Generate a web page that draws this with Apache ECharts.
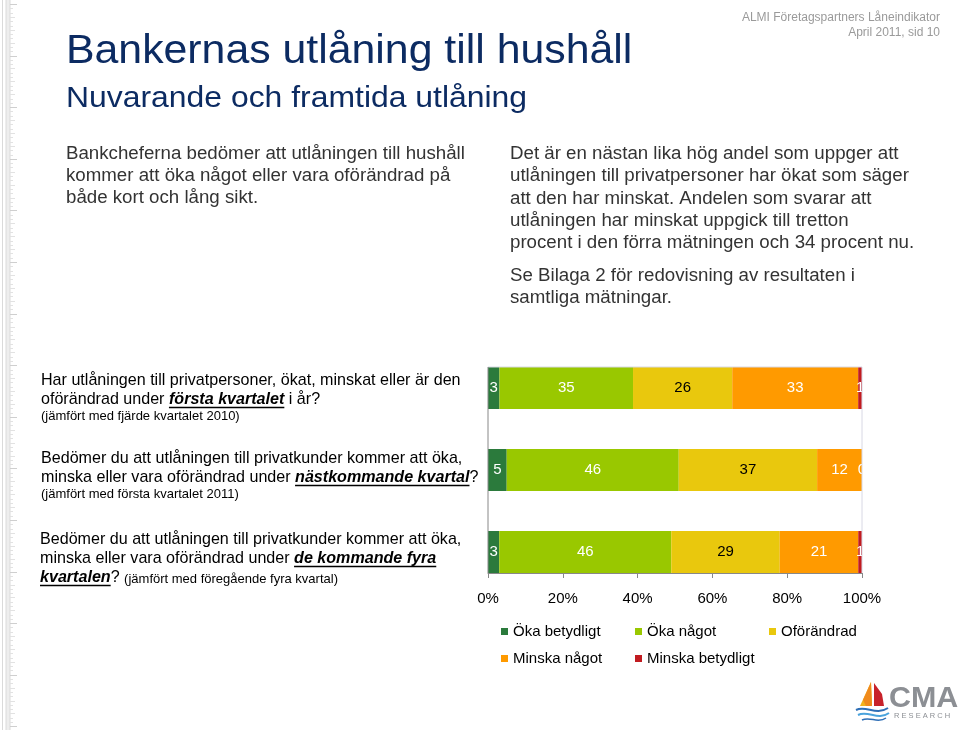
<!DOCTYPE html>
<html>
<head>
<meta charset="utf-8">
<script src="https://cdn.jsdelivr.net/npm/echarts@6/dist/echarts.min.js"></script>
<style>
html,body{margin:0;padding:0;background:#fff;}
#c{width:960px;height:730px;}
</style>
</head>
<body>
<div id="c"></div>
<script>
// ---------- data ----------
const categories = ['Första kvartalet', 'Nästkommande kvartal', 'De kommande fyra kvartalen'];
const seriesNames = ['Öka betydligt', 'Öka något', 'Oförändrad', 'Minska något', 'Minska betydligt'];
const okaBetydligt = [3, 5, 3];
const okaNagot = [35, 46, 46];
const oforandrad = [26, 37, 29];
const minskaNagot = [33, 12, 21];
const minskaBetydligt = [1, 0, 1];
const xTickValues = [0, 20, 40, 60, 80, 100];

const titleText = 'Bankernas utlåning till hushåll';
const subtitleText = 'Nuvarande och framtida utlåning';
const headerLines = ['ALMI Företagspartners Låneindikator', 'April 2011, sid 10'];
const leftBody = ['Bankcheferna bedömer att utlåningen till hushåll', 'kommer att öka något eller vara oförändrad på', 'både kort och lång sikt.'];
const rightBody = ['Det är en nästan lika hög andel som uppger att', 'utlåningen till privatpersoner har ökat som säger', 'att den har minskat. Andelen som svarar att', 'utlåningen har minskat uppgick till tretton', 'procent i den förra mätningen och 34 procent nu.'];
const rightBody2 = ['Se Bilaga 2 för redovisning av resultaten i', 'samtliga mätningar.'];
// question texts: segments [text, style]  n = normal, b = bold italic underlined, s = small
const questions = [
  [
    [['Har utlåningen till privatpersoner, ökat, minskat eller är den', 'n']],
    [['oförändrad under ', 'n'], ['första kvartalet', 'b'], [' i år?', 'n']],
    [['(jämfört med fjärde kvartalet 2010)', 's']]
  ],
  [
    [['Bedömer du att utlåningen till privatkunder kommer att öka,', 'n']],
    [['minska eller vara oförändrad under ', 'n'], ['nästkommande kvartal', 'b'], ['?', 'n']],
    [['(jämfört med första kvartalet 2011)', 's']]
  ],
  [
    [['Bedömer du att utlåningen till privatkunder kommer att öka,', 'n']],
    [['minska eller vara oförändrad under ', 'n'], ['de kommande fyra', 'b']],
    [['kvartalen', 'b'], ['? ', 'n'], ['(jämfört med föregående fyra kvartal)', 's']]
  ]
];

const rawSeries = [okaBetydligt, okaNagot, oforandrad, minskaNagot, minskaBetydligt];
const colors = ['#2b7a3c', '#99c800', '#e9c80d', '#ff9a00', '#c11b20'];
const labelColors = ['#ffffff', '#ffffff', '#000000', '#ffffff', '#ffffff'];

// ---------- chart ----------
const FONT = '"Liberation Sans", Arial, Helvetica, sans-serif';
const chart = echarts.init(document.getElementById('c'), null, {renderer: 'canvas'});

const totals = categories.map((_, i) => rawSeries.reduce((s, arr) => s + arr[i], 0));
const BAR_W = 42;

chart.setOption({
  animation: false,
  backgroundColor: '#ffffff',
  textStyle: {fontFamily: FONT},
  grid: {left: 488, right: 98, top: 347, bottom: 137, containLabel: false},
  legend: {
    left: 496, top: 619, width: 420,
    itemWidth: 7, itemHeight: 7, itemGap: 12,
    icon: 'rect',
    data: seriesNames,
    formatter: name => '{t|' + name + '}',
    textStyle: {fontSize: 15, color: '#000', fontFamily: FONT,
      rich: {t: {width: 110, fontSize: 15, color: '#000', fontFamily: FONT, lineHeight: 18}}}
  },
  xAxis: {
    type: 'value', min: 0, max: 100, interval: 20,
    offset: -20,
    axisLine: {show: true, lineStyle: {color: '#888', width: 1}},
    axisTick: {show: true, length: 5, lineStyle: {color: '#888'}},
    splitLine: {show: false},
    axisLabel: {
      margin: 18, fontSize: 15, color: '#000', fontFamily: FONT,
      formatter: v => xTickValues.indexOf(v) >= 0 ? v + '%' : ''
    }
  },
  yAxis: {
    type: 'category', inverse: true, data: categories,
    axisLine: {show: false}, axisTick: {show: false}, axisLabel: {show: false}
  },
  series: rawSeries.map((arr, k) => ({
    name: seriesNames[k],
    type: 'bar',
    stack: 'all',
    barWidth: BAR_W,
    itemStyle: {color: colors[k]},
    label: {
      show: true, position: 'inside', fontSize: 15, fontFamily: FONT,
      color: labelColors[k],
      formatter: p => String(arr[p.dataIndex])
    },
    data: arr.map((v, i) => v / totals[i] * 100)
  }))
});

// ---------- decorations / texts ----------
const mctx = document.createElement('canvas').getContext('2d');
function tw(text, size, bold, italic) {
  mctx.font = (italic ? 'italic ' : '') + (bold ? 'bold ' : '') + size + 'px ' + FONT;
  return mctx.measureText(text).width;
}
const g = [];
function txt(x, y, text, o) {
  o = o || {};
  g.push({
    type: 'text', x: x, y: y, silent: true,
    scaleX: o.sx || 1,
    style: {
      text: text, fill: o.fill || '#000', fontSize: o.size || 16, fontFamily: FONT,
      fontWeight: o.bold ? 'bold' : 'normal', fontStyle: o.italic ? 'italic' : 'normal',
      align: o.align || 'left', verticalAlign: o.va || 'middle'
    }
  });
}

// left ruler decoration
g.push({type: 'rect', shape: {x: 6, y: 0, width: 4, height: 730}, style: {fill: '#eeeeee'}, silent: true});
[2.5, 6, 10].forEach(x => g.push({type: 'line', shape: {x1: x, y1: 0, x2: x, y2: 730}, style: {stroke: '#dadada', lineWidth: 1}, silent: true}));
for (let y = 4; y < 730; y += 4.3) {
  const i = Math.round((y - 4) / 4.3);
  const big = i % 12 === 0, mid = i % 3 === 0;
  g.push({type: 'line', shape: {x1: 10, y1: Math.round(y) + 0.5, x2: big ? 17 : (mid ? 15 : 13), y2: Math.round(y) + 0.5}, style: {stroke: big ? '#cfcfcf' : '#e2e2e2', lineWidth: 1}, silent: true});
}

// header
txt(940, 18, headerLines[0], {size: 12, fill: '#9a9a9a', align: 'right'});
txt(940, 33, headerLines[1], {size: 12, fill: '#9a9a9a', align: 'right'});

// titles
txt(66, 52, titleText, {size: 40, fill: '#0c2b62', sx: 1.07});
txt(66, 99, subtitleText, {size: 29, fill: '#0c2b62', sx: 1.1});

// body
leftBody.forEach((l, i) => txt(66, 154 + i * 22, l, {size: 18.7, fill: '#333'}));
rightBody.forEach((l, i) => txt(510, 154 + i * 22.2, l, {size: 18.7, fill: '#333'}));
rightBody2.forEach((l, i) => txt(510, 276 + i * 22.2, l, {size: 18.7, fill: '#333'}));

// questions
const qPos = [
  {x: 41, ys: [381, 400, 416]},
  {x: 41, ys: [459, 478, 494]},
  {x: 40, ys: [540, 559, 578]}
];
questions.forEach((q, qi) => {
  q.forEach((line, li) => {
    let x = qPos[qi].x;
    const y = qPos[qi].ys[li];
    line.forEach(([t, s]) => {
      const size = s === 's' ? 13 : 16.1;
      const bold = s === 'b', italic = s === 'b';
      txt(x, s === 's' && line.length > 1 ? y + 1 : y, t, {size: size, bold: bold, italic: italic, fill: '#000'});
      const w = tw(t, size, bold, italic);
      if (s === 'b') {
        g.push({type: 'line', shape: {x1: x, y1: y + 7.5, x2: x + w, y2: y + 7.5}, style: {stroke: '#000', lineWidth: 1.5}, silent: true});
      }
      x += w;
    });
  });
});

// plot frame derived from axes
const x0 = chart.convertToPixel({xAxisIndex: 0}, 0);
const x100 = chart.convertToPixel({xAxisIndex: 0}, 100);
const yTop = chart.convertToPixel({yAxisIndex: 0}, 0) - BAR_W / 2;
const yBot = chart.convertToPixel({yAxisIndex: 0}, categories.length - 1) + BAR_W / 2;
g.push({type: 'line', shape: {x1: x0, y1: yTop, x2: x100, y2: yTop}, style: {stroke: '#d8d8e4', lineWidth: 1}, silent: true, z: 10});
g.push({type: 'line', shape: {x1: x100, y1: yTop, x2: x100, y2: yBot}, style: {stroke: '#d8d8e4', lineWidth: 1}, silent: true, z: 10});
g.push({type: 'line', shape: {x1: x0, y1: yTop, x2: x0, y2: yBot}, style: {stroke: '#888', lineWidth: 1}, silent: true, z: 10});

// logo
g.push({type: 'polygon', shape: {points: [[871, 682], [860, 706], [872, 706]]}, style: {fill: '#f2b21c'}, silent: true});
g.push({type: 'polygon', shape: {points: [[871, 682], [863, 700], [866, 706], [872, 706]]}, style: {fill: '#f08a1c'}, silent: true});
g.push({type: 'polygon', shape: {points: [[874, 683], [874, 706], [884, 706], [882, 694]]}, style: {fill: '#c8222a'}, silent: true});
g.push({type: 'bezierCurve', shape: {x1: 856, y1: 710, cpx1: 866, cpy1: 705, cpx2: 876, cpy2: 716, x2: 888, y2: 708}, style: {stroke: '#2f6fb6', lineWidth: 2, fill: null}, silent: true});
g.push({type: 'bezierCurve', shape: {x1: 858, y1: 715, cpx1: 868, cpy1: 710, cpx2: 878, cpy2: 721, x2: 889, y2: 713}, style: {stroke: '#4aa3dd', lineWidth: 2, fill: null}, silent: true});
g.push({type: 'bezierCurve', shape: {x1: 862, y1: 720, cpx1: 870, cpy1: 716, cpx2: 878, cpy2: 724, x2: 886, y2: 718}, style: {stroke: '#2f6fb6', lineWidth: 1.5, fill: null}, silent: true});
txt(889, 699, 'CMA', {size: 29, bold: true, fill: '#8c8f94', sx: 1.05});
g.push({type: 'text', x: 894, y: 716, silent: true, style: {text: 'R E S E A R C H', fontSize: 7.5, fontFamily: FONT, fill: '#8c8f94', verticalAlign: 'middle'}});

chart.setOption({graphic: g});
</script>
</body>
</html>
